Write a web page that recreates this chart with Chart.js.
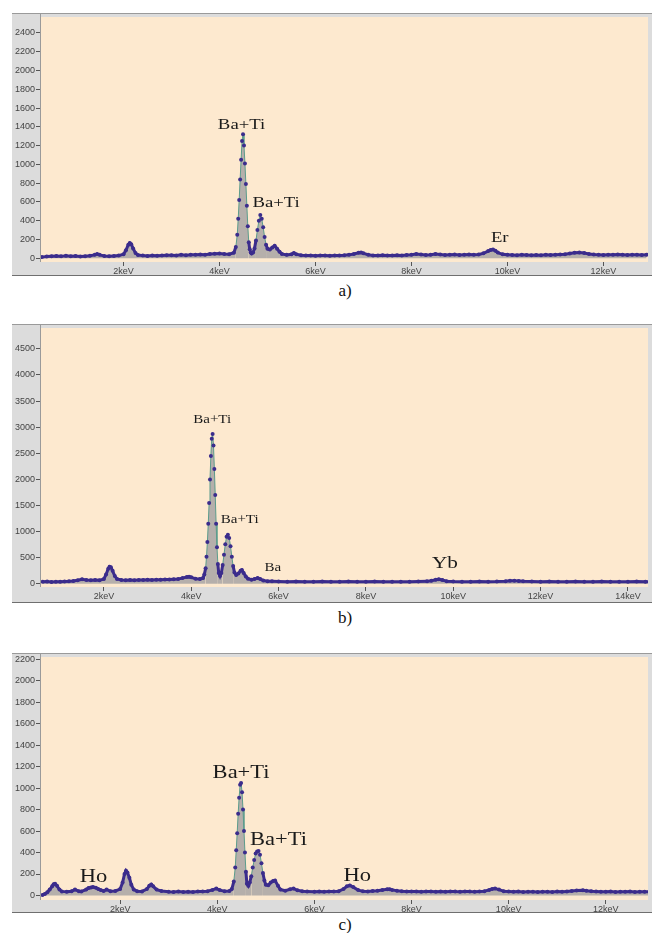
<!DOCTYPE html>
<html>
<head>
<meta charset="utf-8">
<script src="https://cdn.jsdelivr.net/npm/chart.js@4.4.1/dist/chart.umd.min.js"></script>
<style>
  body { margin: 0; background: #fff; width: 652px; height: 933px; position: relative; overflow: hidden; }
  canvas { position: absolute; left: 12px; }
  .cap { position: absolute; left: 325px; width: 40px; text-align: center;
         font-family: "Liberation Serif", "Times New Roman", serif; font-size: 17px; line-height: 18px; color: #111; }
</style>
</head>
<body>
<canvas id="chartA" width="640" height="263" style="top:13px"></canvas>
<div class="cap" style="top:282px">a)</div>
<canvas id="chartB" width="640" height="279" style="top:324px"></canvas>
<div class="cap" style="top:609px">b)</div>
<canvas id="chartC" width="640" height="260" style="top:653px"></canvas>
<div class="cap" style="top:916px">c)</div>
<script>
// panel a) spectrum, energy in keV, counts
const energyA = [
  0.3,0.4,0.5,0.6,0.7,0.8,0.9,1.0,1.1,1.2,
  1.3,1.4,1.45,1.5,1.6,1.7,1.8,1.9,2.0,2.05,
  2.1,2.13,2.16,2.2,2.25,2.3,2.4,2.5,2.6,2.7,
  2.8,2.9,3.0,3.1,3.2,3.3,3.4,3.5,3.6,3.7,
  3.8,3.9,4.0,4.1,4.2,4.3,4.34,4.37,4.39,4.41,
  4.43,4.45,4.47,4.49,4.51,4.53,4.55,4.57,4.59,4.61,
  4.63,4.65,4.67,4.7,4.73,4.76,4.79,4.82,4.85,4.88,
  4.91,4.94,4.97,5.0,5.05,5.1,5.15,5.2,5.25,5.3,
  5.4,5.5,5.55,5.6,5.7,5.8,5.9,6.0,6.1,6.2,
  6.3,6.4,6.5,6.6,6.7,6.8,6.9,6.95,7.0,7.1,
  7.2,7.3,7.4,7.5,7.6,7.7,7.8,7.9,8.0,8.1,
  8.2,8.3,8.4,8.5,8.6,8.7,8.8,8.9,9.0,9.1,
  9.2,9.3,9.4,9.5,9.6,9.65,9.7,9.75,9.8,9.9,
  10.0,10.1,10.2,10.3,10.4,10.5,10.6,10.7,10.8,10.9,
  11.0,11.1,11.2,11.3,11.4,11.5,11.6,11.7,11.8,11.9,
  12.0,12.1,12.2,12.3,12.4,12.5,12.6,12.7,12.8,12.9
];
const countsA = [
  12,18,22,24,20,26,22,24,19,22,
  26,36,44,36,24,22,25,28,42,85,
  145,162,150,105,55,34,28,25,30,26,
  28,31,33,30,36,33,38,36,41,38,
  45,48,50,45,42,58,120,250,420,620,
  840,1050,1250,1320,1200,1010,790,560,340,170,
  95,62,50,62,105,190,300,400,460,420,
  330,225,145,100,92,115,132,102,70,46,
  36,42,56,42,33,30,28,26,30,28,
  26,28,30,32,36,46,58,62,52,38,
  30,28,32,30,28,32,30,35,38,45,
  40,35,38,45,40,35,38,40,35,38,
  40,36,40,52,76,88,92,80,60,42,
  38,35,32,38,35,32,35,33,38,35,
  38,40,42,50,58,62,55,45,40,38,
  35,38,36,40,38,35,38,36,35,38
];
const yTicksA = [0,200,400,600,800,1000,1200,1400,1600,1800,2000,2200,2400];
const xTicksA = [2,4,6,8,10,12];

// panel b)
const energyB = [
  0.6,0.7,0.8,0.9,1.0,1.1,1.2,1.3,1.4,1.5,
  1.6,1.7,1.8,1.9,2.0,2.05,2.1,2.13,2.16,2.2,
  2.25,2.3,2.4,2.5,2.6,2.7,2.8,2.9,3.0,3.1,
  3.2,3.3,3.4,3.5,3.6,3.7,3.8,3.9,3.95,4.0,
  4.1,4.2,4.27,4.3,4.33,4.35,4.37,4.39,4.41,4.43,
  4.45,4.47,4.49,4.51,4.53,4.55,4.57,4.59,4.61,4.63,
  4.66,4.69,4.72,4.75,4.78,4.81,4.84,4.87,4.9,4.93,
  4.96,4.99,5.03,5.08,5.13,5.16,5.2,5.25,5.3,5.38,
  5.45,5.52,5.58,5.65,5.75,5.85,6.0,6.2,6.4,6.6,
  6.8,7.0,7.2,7.4,7.6,7.8,8.0,8.2,8.4,8.6,
  8.8,9.0,9.2,9.4,9.5,9.6,9.67,9.75,9.85,10.0,
  10.2,10.4,10.6,10.8,11.0,11.2,11.3,11.4,11.5,11.6,
  11.8,12.0,12.2,12.4,12.6,12.8,13.0,13.2,13.4,13.6,
  13.8,14.0,14.2,14.4,14.5
];
const countsB = [
  40,45,38,42,40,45,48,55,70,88,
  75,70,72,68,95,180,290,330,320,250,
  150,95,75,70,72,68,75,72,78,75,
  80,78,85,82,90,95,110,130,138,125,
  100,95,110,180,300,520,800,1150,1550,2000,
  2450,2780,2870,2650,2200,1700,1150,700,380,210,
  150,210,360,560,760,900,940,880,720,520,
  340,220,170,200,250,265,210,140,100,80,
  95,110,95,65,50,48,45,42,45,40,
  42,45,40,42,44,40,42,45,40,42,
  40,42,45,48,60,80,88,75,52,45,
  42,40,44,42,45,52,60,62,55,48,
  45,42,44,40,42,45,40,42,44,40,
  42,40,43,40,42
];
const yTicksB = [0,500,1000,1500,2000,2500,3000,3500,4000,4500];
const xTicksB = [2,4,6,8,10,12,14];

// panel c)
const energyC = [
  0.4,0.45,0.5,0.55,0.6,0.63,0.66,0.7,0.75,0.8,
  0.9,1.0,1.07,1.15,1.2,1.3,1.35,1.4,1.44,1.5,
  1.55,1.6,1.66,1.72,1.8,1.9,2.0,2.05,2.09,2.12,
  2.15,2.19,2.23,2.28,2.35,2.45,2.55,2.6,2.64,2.68,
  2.75,2.85,3.0,3.1,3.2,3.3,3.4,3.5,3.6,3.7,
  3.8,3.9,3.98,4.05,4.15,4.25,4.3,4.34,4.37,4.39,
  4.41,4.43,4.45,4.47,4.49,4.51,4.53,4.55,4.57,4.59,
  4.61,4.64,4.67,4.7,4.73,4.76,4.79,4.82,4.85,4.88,
  4.91,4.94,4.97,5.0,5.05,5.1,5.15,5.19,5.25,5.3,
  5.4,5.5,5.57,5.65,5.75,5.85,6.0,6.1,6.2,6.3,
  6.4,6.5,6.6,6.67,6.73,6.8,6.9,7.0,7.1,7.2,
  7.3,7.4,7.5,7.55,7.6,7.7,7.8,7.9,8.0,8.1,
  8.2,8.3,8.4,8.5,8.6,8.7,8.8,8.9,9.0,9.1,
  9.2,9.3,9.4,9.5,9.6,9.66,9.72,9.8,9.9,10.0,
  10.1,10.2,10.3,10.4,10.5,10.6,10.7,10.8,10.9,11.0,
  11.1,11.2,11.3,11.4,11.53,11.6,11.7,11.8,11.9,12.0,
  12.1,12.2,12.3,12.4,12.5,12.6,12.7,12.8,12.9
];
const countsC = [
  5,15,30,55,85,105,110,90,55,38,
  35,40,55,40,38,55,70,75,78,72,
  60,50,42,55,40,42,60,120,200,231,
  215,165,100,55,40,38,60,90,103,85,
  55,42,35,33,36,32,35,33,36,38,
  40,52,64,50,40,42,60,130,260,420,
  580,760,910,1030,1048,960,800,600,400,220,
  110,90,120,180,260,330,390,410,414,380,
  300,210,140,100,95,120,135,140,90,55,
  45,58,64,48,40,36,34,38,35,37,
  36,40,60,85,94,78,50,40,38,42,
  45,52,58,58,52,44,40,38,36,38,
  35,38,36,34,37,35,38,36,35,38,
  36,35,38,40,52,60,64,55,40,36,
  34,36,33,35,34,32,35,34,33,36,
  35,38,42,46,48,45,40,36,35,34,
  36,33,35,34,36,33,35,34,35
];
const yTicksC = [0,200,400,600,800,1000,1200,1400,1600,1800,2000,2200];
const xTicksC = [2,4,6,8,10,12];

// peak labels (keV, counts)
const notesA = [
  { text: "Ba+Ti", x: 4.46, y: 1420, size: 15 },
  { text: "Ba+Ti", x: 5.18, y: 588, size: 15 },
  { text: "Er", x: 9.84, y: 210, size: 15 }
];
const notesB = [
  { text: "Ba+Ti", x: 4.48, y: 3150, size: 12 },
  { text: "Ba+Ti", x: 5.11, y: 1224, size: 12 },
  { text: "Ba", x: 5.87, y: 307, size: 12 },
  { text: "Yb", x: 9.81, y: 395, size: 17 }
];
const notesC = [
  { text: "Ho", x: 1.45, y: 170, size: 18 },
  { text: "Ba+Ti", x: 4.49, y: 1140, size: 18 },
  { text: "Ba+Ti", x: 5.26, y: 515, size: 18 },
  { text: "Ho", x: 6.88, y: 177, size: 18 }
];

const panelBg = {
  id: "panelBg",
  beforeDraw(chart) {
    const { ctx, chartArea: a, width, height } = chart;
    ctx.save();
    ctx.fillStyle = "#dcdcdc";
    ctx.fillRect(0, 0, width, height);
    ctx.fillStyle = "#fde9cf";
    ctx.fillRect(a.left, a.top, a.right - a.left, a.bottom - a.top);
    ctx.restore();
  },
  afterDraw(chart) {
    const { ctx, chartArea: a, width, height } = chart;
    ctx.save();
    ctx.strokeStyle = "#9a9a9a";
    ctx.lineWidth = 1;
    ctx.beginPath();
    ctx.moveTo(0, 0.5); ctx.lineTo(width, 0.5);
    ctx.moveTo(a.left - 0.5, 0); ctx.lineTo(a.left - 0.5, a.bottom);
    ctx.stroke();
    ctx.strokeStyle = "#6f6f6f";
    ctx.beginPath();
    ctx.moveTo(0, height - 0.5); ctx.lineTo(width, height - 0.5);
    ctx.stroke();
    ctx.restore();
  }
};

const peakNotes = {
  id: "peakNotes",
  afterDatasetsDraw(chart, args, opts) {
    const ctx = chart.ctx;
    ctx.save();
    ctx.fillStyle = "#1a1a1a";
    ctx.textAlign = "center";
    ctx.textBaseline = "middle";
    opts.notes.forEach(n => {
      const px = chart.scales.x.getPixelForValue(n.x);
      const py = chart.scales.y.getPixelForValue(n.y);
      ctx.save();
      ctx.translate(px, py);
      ctx.scale(1.25, 1);
      ctx.font = n.size + 'px "Liberation Serif", "Times New Roman", serif';
      ctx.fillText(n.text, 0, 0);
      ctx.restore();
    });
    ctx.restore();
  }
};

function makeChart(id, energy, counts, xMin, xMax, yMin, yMax, xTicks, yTicks, bandH, thinAbove, notes) {
  const points = energy.map((e, i) => ({ x: e, y: counts[i] }));
  const isPeak = c => Math.max(c.p0.parsed.y, c.p1.parsed.y) > thinAbove;
  return new Chart(document.getElementById(id), {
    type: "line",
    data: {
      datasets: [{
        data: points,
        fill: "origin",
        backgroundColor: "rgba(150,150,155,0.7)",
        borderColor: "#3b2c8c",
        borderWidth: 3,
        pointRadius: 2,
        pointBorderWidth: 0,
        pointBackgroundColor: "#3b2c8c",
        tension: 0,
        segment: {
          borderColor: c => (isPeak(c) ? "#5c9c8c" : "#3b2c8c"),
          borderWidth: c => (isPeak(c) ? 1 : 3)
        }
      }]
    },
    options: {
      responsive: false,
      animation: false,
      devicePixelRatio: 1,
      layout: { padding: 0 },
      plugins: { legend: { display: false }, tooltip: { enabled: false }, peakNotes: { notes: notes } },
      scales: {
        x: {
          type: "linear",
          min: xMin,
          max: xMax,
          afterBuildTicks: axis => { axis.ticks = xTicks.map(v => ({ value: v })); },
          afterFit: axis => { axis.height = bandH; axis.paddingLeft = 0; axis.paddingRight = 0; },
          grid: { drawOnChartArea: false, tickLength: 4, color: "#555" },
          border: { display: false },
          ticks: {
            autoSkip: false, maxRotation: 0, padding: 0,
            font: { family: "Arial, Liberation Sans", size: 9 }, color: "#444",
            callback: v => v + "keV"
          }
        },
        y: {
          min: yMin,
          max: yMax,
          afterBuildTicks: axis => { axis.ticks = yTicks.map(v => ({ value: v })); },
          afterFit: axis => { axis.width = 29; axis.paddingTop = 0; axis.paddingBottom = 0; },
          grid: { drawOnChartArea: false, tickLength: 5, color: "#555" },
          border: { display: false },
          ticks: {
            padding: 1, font: { family: "Arial, Liberation Sans", size: 9 }, color: "#444",
            callback: v => String(v)
          }
        }
      }
    },
    plugins: [panelBg, peakNotes]
  });
}

makeChart("chartA", energyA, countsA, 0.28, 12.93, -40, 2570, xTicksA, yTicksA, 14, 200, notesA);
makeChart("chartB", energyB, countsB, 0.56, 14.46, -60, 4900, xTicksB, yTicksB, 16, 400, notesB);
makeChart("chartC", energyC, countsC, 0.37, 12.87, -42, 2220, xTicksC, yTicksC, 13, 250, notesC);
</script>
</body>
</html>
